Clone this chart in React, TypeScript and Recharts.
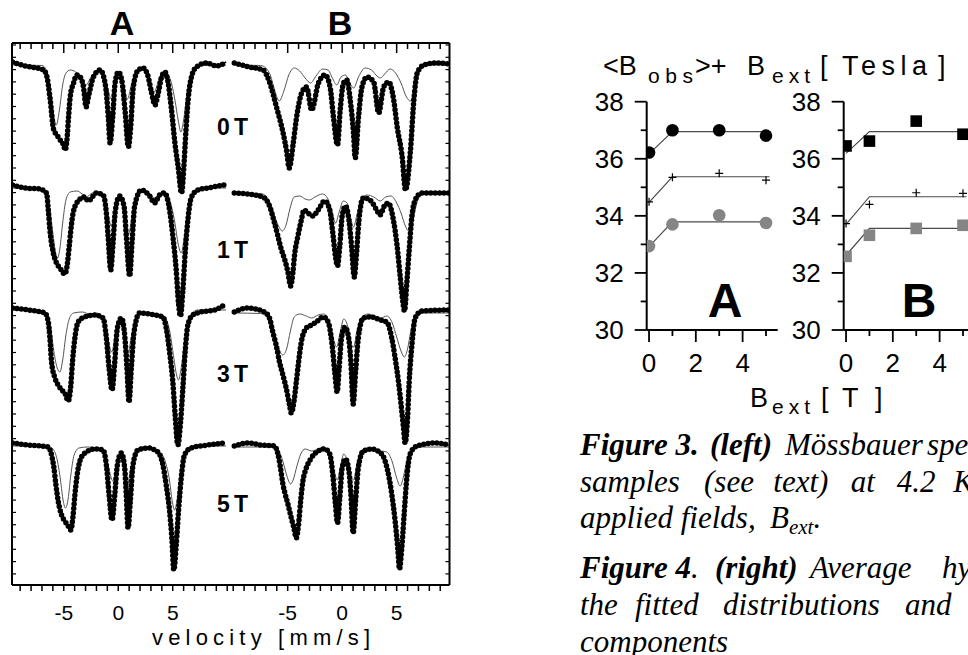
import React from 'react';
import { LineChart, Line, XAxis, YAxis, ComposedChart, Scatter } from 'recharts';

type P = [number, number];

// ---------------- Figure 3: Mössbauer spectra, [velocity (mm/s), absorption (%)] ----------------
const specA0: P[] = [[-9.7,-0.3],[-8.5,0.1],[-7.5,0.3],[-6.85,0.5],[-6.54,1.2],[-6.24,3.5],[-5.94,6.4],[-5.63,7.0],[-5.32,7.5],[-5.02,8.0],[-4.87,8.5],[-4.71,7.5],[-4.56,5.2],[-4.41,3.2],[-4.1,1.8],[-3.8,1.0],[-3.49,1.2],[-3.19,2.2],[-2.95,4.2],[-2.74,3.2],[-2.28,1.2],[-1.67,0.5],[-1.21,1.8],[-0.91,5.2],[-0.75,7.8],[-0.51,5.2],[-0.29,1.8],[0.01,0.7],[0.32,1.5],[0.62,4.5],[0.93,8.2],[1.14,6.2],[1.38,2.2],[1.84,0.5],[2.3,0.3],[2.75,1.2],[3.06,2.8],[3.37,4.0],[3.67,2.8],[3.98,1.2],[4.28,0.7],[4.58,1.8],[4.89,4.5],[5.2,7.8],[5.5,10.2],[5.81,12.8],[6.02,10.2],[6.2,6.8],[6.41,3.5],[6.72,1.2],[7.17,0.2],[8.1,-0.2],[9.0,0.1],[9.9,-0.3]];
const specB0: P[] = [[-9.9,-0.2],[-8.5,0.2],[-7.26,0.5],[-6.64,1.8],[-6.03,4.2],[-5.42,6.8],[-5.1,8.6],[-4.86,10.3],[-4.49,7.8],[-4.18,5.2],[-3.72,2.8],[-3.26,2.2],[-2.8,4.5],[-2.18,1.8],[-1.57,1.0],[-1.11,2.2],[-0.8,5.2],[-0.43,8.0],[-0.18,4.5],[0.12,1.8],[0.43,1.5],[0.74,3.5],[1.04,6.8],[1.2,9.3],[1.5,5.2],[1.82,2.2],[2.28,1.2],[2.89,1.7],[3.35,4.8],[3.81,2.2],[4.27,1.7],[4.73,3.5],[5.05,6.2],[5.51,9.2],[5.81,12.5],[6.27,8.5],[6.58,3.5],[6.89,0.8],[7.5,0],[8.7,-0.2],[9.9,-0.1]];
const specA1: P[] = [[-9.7,-0.3],[-8.5,0],[-7.2,0.1],[-6.58,0.5],[-6.42,2.2],[-6.27,4.2],[-5.96,6.5],[-5.66,7.5],[-5.35,8.0],[-4.9,8.6],[-4.66,7.5],[-4.53,6.2],[-4.35,4.2],[-4.14,2.5],[-3.68,1.3],[-3.07,0.9],[-2.76,1.3],[-2.0,0.5],[-1.39,0.7],[-1.09,2.5],[-0.93,4.8],[-0.69,8.2],[-0.48,5.5],[-0.26,2.2],[0.13,0.8],[0.53,1.8],[0.74,4.8],[1.05,8.8],[1.26,5.5],[1.51,1.8],[2.12,0.2],[2.88,0.8],[3.34,1.5],[3.79,0.7],[4.25,0.5],[4.71,2.2],[5.01,4.8],[5.32,8.2],[5.53,11.5],[5.71,12.8],[5.93,10.2],[6.14,6.5],[6.39,3.2],[6.69,1.0],[7.3,0.2],[8.2,0],[9.74,-0.3]];
const specB1: P[] = [[-9.9,0],[-8.05,0.2],[-7.13,0.5],[-6.67,1.3],[-6.21,3.0],[-5.9,4.3],[-5.6,5.6],[-5.29,6.6],[-4.98,7.9],[-4.73,9.3],[-4.52,7.9],[-4.37,6.2],[-4.06,4.3],[-3.75,2.7],[-3.5,1.7],[-3.14,2.0],[-2.68,2.3],[-2.21,1.7],[-1.6,0.8],[-1.14,1.7],[-0.83,4.3],[-0.62,6.3],[-0.43,7.3],[-0.22,5.3],[0,2.3],[0.31,1.3],[0.62,2.7],[0.86,5.3],[1.11,8.4],[1.32,6.0],[1.54,2.7],[1.94,0.5],[2.55,0.7],[3.17,1.7],[3.48,2.2],[3.87,1.3],[4.24,1.0],[4.7,2.7],[5.01,5.0],[5.32,8.3],[5.54,10.6],[5.72,11.8],[5.93,9.0],[6.15,5.7],[6.4,2.3],[6.7,0.7],[7.3,0],[9.8,0]];
const specA3: P[] = [[-9.7,-0.2],[-8.25,0],[-6.73,0.3],[-6.42,1.2],[-6.27,2.8],[-6.12,5.2],[-5.81,6.8],[-5.51,7.5],[-5.2,8.0],[-4.9,8.3],[-4.59,9.1],[-4.35,7.5],[-4.2,5.2],[-3.98,2.8],[-3.68,1.2],[-3.07,0.7],[-2.15,0.5],[-1.39,0.8],[-1.09,2.8],[-0.84,5.8],[-0.57,8.0],[-0.32,5.2],[-0.08,1.8],[0.29,0.8],[0.59,2.5],[0.8,5.8],[0.99,9.2],[1.2,5.8],[1.45,2.2],[1.96,0.3],[3.34,0.5],[4.1,0.7],[4.4,1.8],[4.71,4.2],[5.01,7.2],[5.22,10.5],[5.47,13.5],[5.72,11.2],[5.93,7.8],[6.14,4.2],[6.39,1.5],[6.84,0.5],[7.6,0.2],[8.83,0],[9.74,-0.5]];
const specB3: P[] = [[-9.9,0.1],[-8.67,-0.3],[-7.13,0.1],[-6.67,0.7],[-6.37,2.1],[-6.06,3.4],[-5.75,5.1],[-5.44,6.4],[-5.14,7.7],[-4.83,9.4],[-4.67,10.2],[-4.43,9.1],[-4.21,7.1],[-4.0,5.1],[-3.75,3.1],[-3.29,1.7],[-2.83,1.4],[-2.37,1.1],[-1.75,0.6],[-1.29,1.1],[-0.92,3.4],[-0.68,6.1],[-0.46,8.1],[-0.28,5.7],[-0.06,2.7],[0.25,1.6],[0.55,2.4],[0.8,5.1],[1.01,9.3],[1.23,6.1],[1.48,2.7],[1.94,0.7],[2.7,0.6],[3.48,0.9],[4.09,1.1],[4.55,2.7],[4.86,4.7],[5.17,7.1],[5.41,9.4],[5.63,11.7],[5.78,13.2],[6.0,10.7],[6.15,7.1],[6.4,3.4],[6.7,0.7],[7.3,0],[9.8,-0.1]];
const specA5: P[] = [[-9.7,-0.2],[-8.25,0],[-6.42,0.2],[-6.12,1.0],[-5.9,2.3],[-5.72,4.0],[-5.51,5.6],[-5.2,7.0],[-4.9,7.6],[-4.59,8.1],[-4.35,8.5],[-4.14,7.0],[-3.98,5.0],[-3.77,3.0],[-3.52,1.6],[-3.07,0.8],[-2.15,0.4],[-1.39,0.5],[-1.09,2.0],[-0.84,5.0],[-0.57,7.5],[-0.32,5.0],[-0.08,2.0],[0.29,0.8],[0.59,2.3],[0.74,5.0],[0.9,8.3],[1.11,5.6],[1.35,2.0],[1.81,0.5],[2.73,0.3],[3.64,0.7],[4.1,2.0],[4.4,4.0],[4.71,6.6],[4.92,9.3],[5.1,12.5],[5.32,10.0],[5.53,6.6],[5.78,3.3],[6.08,1.0],[6.69,0.3],[8.2,0],[9.74,-0.2]];
const specB5: P[] = [[-9.9,0],[-8.67,-0.3],[-7.44,-0.1],[-6.21,0],[-5.9,0.8],[-5.66,2.2],[-5.44,3.8],[-5.23,4.8],[-4.98,5.8],[-4.67,7.2],[-4.43,8.2],[-4.21,9.2],[-4.0,7.8],[-3.81,5.5],[-3.6,3.5],[-3.29,2.2],[-2.83,1.2],[-2.21,0.5],[-1.6,0.3],[-1.14,0.8],[-0.83,3.2],[-0.62,5.8],[-0.43,7.7],[-0.22,5.2],[0,2.2],[0.31,1.3],[0.62,2.5],[0.8,4.8],[1.01,8.7],[1.23,5.5],[1.48,2.2],[1.94,0.5],[2.7,0.3],[3.63,0.8],[4.18,2.5],[4.55,4.8],[4.86,7.5],[5.1,10.2],[5.26,12.3],[5.47,10.2],[5.69,6.8],[5.93,3.2],[6.24,0.8],[6.85,0],[8.55,-0.3],[9.78,-0.1]];

// thin sub-spectrum (one fitted component)
const compA0: P[] = [[-9.7,0],[-7.0,0.05],[-6.6,0.5],[-6.3,2.0],[-6.0,4.5],[-5.69,6.0],[-5.4,4.5],[-5.1,2.0],[-4.8,0.8],[-4.4,0.5],[-3.9,0.7],[-3.4,1.3],[-2.95,2.0],[-2.5,1.2],[-2.0,0.6],[-1.5,0.8],[-1.0,2.2],[-0.65,3.4],[-0.3,2.0],[0.1,1.3],[0.5,2.2],[0.85,3.4],[1.2,2.0],[1.7,0.7],[2.3,0.5],[2.8,1.2],[3.3,2.7],[3.8,1.2],[4.3,0.7],[4.8,1.5],[5.2,3.5],[5.5,5.5],[5.75,6.7],[6.0,5.5],[6.3,3.0],[6.6,1.2],[7.0,0.3],[7.5,0.05],[9.9,0]];
const compB0: P[] = [[-9.9,0],[-7.5,0.05],[-7.0,0.3],[-6.6,1.0],[-6.2,2.5],[-5.78,3.6],[-5.35,2.6],[-4.9,1.0],[-4.4,0.3],[-3.9,0.6],[-3.4,1.3],[-2.9,1.8],[-2.4,1.1],[-1.8,0.4],[-1.3,0.5],[-0.9,1.3],[-0.5,2.0],[-0.1,1.2],[0.3,1.0],[0.7,1.8],[1.05,2.3],[1.5,1.2],[2.1,0.3],[2.7,0.5],[3.1,1.0],[3.5,1.3],[3.9,0.9],[4.4,0.4],[4.9,0.8],[5.4,1.8],[5.9,3.2],[6.25,3.6],[6.6,2.6],[7.0,0.9],[7.4,0.2],[8.0,0],[9.9,0]];
const compA1: P[] = [[-9.7,0],[-7.0,0.05],[-6.6,0.5],[-6.3,2.0],[-6.0,4.5],[-5.75,6.5],[-5.57,7.0],[-5.35,6.0],[-5.1,3.5],[-4.8,1.2],[-4.4,0.4],[-3.8,0.3],[-3.3,0.6],[-2.9,0.9],[-2.4,0.5],[-1.8,0.4],[-1.3,1.2],[-0.9,2.8],[-0.65,3.8],[-0.35,2.5],[0.0,1.0],[0.35,1.5],[0.7,3.5],[0.95,4.6],[1.25,3.0],[1.7,0.8],[2.3,0.3],[2.9,0.6],[3.35,1.0],[3.8,0.6],[4.3,0.5],[4.8,1.5],[5.2,3.5],[5.5,5.6],[5.78,6.5],[6.05,5.0],[6.35,2.5],[6.7,0.8],[7.1,0.2],[7.6,0],[9.9,0]];
const compB1: P[] = [[-9.9,0],[-7.5,0.05],[-7.0,0.3],[-6.6,1.0],[-6.2,2.3],[-5.8,3.4],[-5.5,3.8],[-5.15,3.2],[-4.8,1.6],[-4.4,0.4],[-3.9,0.3],[-3.4,0.6],[-3.0,0.7],[-2.5,0.4],[-1.8,0.1],[-1.3,0.6],[-0.9,2.0],[-0.6,3.0],[-0.3,2.0],[0.1,0.8],[0.45,1.0],[0.75,2.4],[1.05,3.4],[1.35,2.2],[1.8,0.5],[2.3,0.2],[2.9,0.4],[3.5,0.8],[4.0,0.4],[4.5,0.3],[5.0,1.0],[5.4,2.0],[5.8,3.3],[6.1,3.8],[6.4,3.2],[6.7,1.7],[7.0,0.5],[7.4,0.05],[9.9,0]];
const compA3: P[] = [[-9.7,0],[-7.0,0.05],[-6.5,0.4],[-6.2,1.8],[-5.9,4.2],[-5.6,5.8],[-5.35,6.2],[-5.1,5.0],[-4.8,2.5],[-4.5,0.9],[-4.1,0.3],[-3.3,0.2],[-2.6,0.4],[-2.0,0.3],[-1.4,0.8],[-1.0,2.6],[-0.6,4.2],[-0.25,2.4],[0.1,1.2],[0.5,2.4],[0.85,4.8],[1.15,3.0],[1.6,0.8],[2.2,0.2],[3.0,0.3],[3.6,0.4],[4.2,0.6],[4.7,2.0],[5.1,4.8],[5.35,6.5],[5.53,7.0],[5.75,6.0],[6.05,3.5],[6.4,1.2],[6.8,0.3],[7.3,0],[9.9,0]];
const compB3: P[] = [[-9.9,0.2],[-7.5,0.25],[-7.0,0.5],[-6.6,1.2],[-6.2,2.4],[-5.8,3.8],[-5.44,4.4],[-5.1,3.8],[-4.75,2.0],[-4.4,0.6],[-3.9,0.3],[-3.3,0.5],[-2.8,0.7],[-2.2,0.4],[-1.7,0.3],[-1.2,1.0],[-0.8,2.8],[-0.5,3.6],[-0.2,2.2],[0.15,0.8],[0.5,1.5],[0.8,3.2],[1.05,3.6],[1.35,2.0],[1.8,0.6],[2.4,0.3],[3.0,0.5],[3.55,0.7],[4.1,0.5],[4.6,1.2],[5.0,2.6],[5.4,4.0],[5.7,4.6],[6.0,3.8],[6.3,2.0],[6.7,0.6],[7.1,0.25],[7.6,0.2],[9.9,0.2]];
const compA5: P[] = [[-9.7,0.1],[-6.5,0.1],[-6.0,0.4],[-5.6,1.5],[-5.3,3.5],[-5.05,5.6],[-4.84,6.3],[-4.6,5.4],[-4.35,3.0],[-4.05,1.0],[-3.6,0.3],[-2.8,0.2],[-2.0,0.3],[-1.3,0.8],[-0.9,2.2],[-0.5,3.6],[-0.2,2.4],[0.1,1.2],[0.45,2.0],[0.8,4.2],[1.1,2.6],[1.5,0.8],[2.2,0.2],[3.0,0.3],[3.8,0.7],[4.3,1.6],[4.7,3.5],[4.95,5.6],[5.17,6.5],[5.4,5.5],[5.7,3.0],[6.0,1.1],[6.4,0.3],[7.0,0.1],[9.9,0.1]];
const compB5: P[] = [[-9.9,0.1],[-6.5,0.1],[-6.0,0.3],[-5.6,1.0],[-5.25,2.3],[-4.95,3.4],[-4.73,3.8],[-4.5,3.4],[-4.15,2.0],[-3.8,0.8],[-3.4,0.3],[-2.8,0.5],[-2.2,0.3],[-1.7,0.1],[-1.2,0.6],[-0.8,2.2],[-0.45,3.4],[-0.15,2.0],[0.15,0.8],[0.5,1.6],[0.8,3.0],[1.05,3.4],[1.35,1.8],[1.8,0.4],[2.4,0.2],[3.0,0.3],[3.6,0.5],[4.1,0.6],[4.6,1.6],[5.0,3.2],[5.32,4.0],[5.6,3.2],[5.95,1.4],[6.3,0.4],[6.8,0.1],[9.9,0.1]];

const fieldLabels = ['0T', '1T', '3T', '5T'];
const velTicksA = [-9,-8,-7,-6,-5,-4,-3,-2,-1,0,1,2,3,4,5,6,7,8,9,10];
const velTicksB = [-10,-9,-8,-7,-6,-5,-4,-3,-2,-1,0,1,2,3,4,5,6,7,8,9];
const velLabels = [-5, 0, 5];

// ---------------- Figure 4: <Bobs> + Bext vs Bext ----------------
const bext = [0, 1, 3, 5];
const bextFit = [0, 1, 5.15];
const aBlack = [36.22, 37.0, 37.0, 36.81];
const aPlus = [34.49, 35.35, 35.49, 35.25];
const aGray = [32.94, 33.70, 34.02, 33.75];
const aBlackFit = [36.17, 36.95, 36.95];
const aPlusFit = [34.47, 35.37, 35.37];
const aGrayFit = [32.92, 33.79, 33.79];
const bBlack = [36.45, 36.62, 37.32, 36.86];
const bPlus = [33.73, 34.40, 34.81, 34.79];
const bGray = [32.58, 33.32, 33.56, 33.67];
const bBlackFit = [36.19, 36.95, 36.95];
const bPlusFit = [33.70, 34.67, 34.67];
const bGrayFit = [32.62, 33.56, 33.56];
const teslaTicks = [30, 31, 32, 33, 34, 35, 36, 37, 38];
const bextTicks = [0, 1, 2, 3, 4, 5];

// ---------------- layout / style ----------------
const SANS = '"Liberation Sans", Arial, Helvetica, sans-serif';
const SERIF = '"Liberation Serif", "Times New Roman", Times, serif';
const SHIFT_B = 20.55;
const baseA = [-2.2, -14.5, -26.7, -40.2];
const baseB = [-2.2, -15.0, -26.8, -40.3];
const GRAY = '#858585';

const mk = (pts: P[], base: number, shift: number) => pts.map(([v, d]) => ({ x: v + shift, y: base - d }));
const pairs = (xs: number[], ys: number[]) => xs.map((x, i) => ({ x, y: ys[i] }));

const specsA = [specA0, specA1, specA3, specA5];
const specsB = [specB0, specB1, specB3, specB5];
const compsA = [compA0, compA1, compA3, compA5];
const compsB = [compB0, compB1, compB3, compB5];

const xTicks = [...velTicksA, ...velTicksB.map((v) => v + SHIFT_B)];
const labelFor = (val: number): string | null => {
  for (const l of velLabels) {
    if (Math.abs(val - l) < 1e-6) return String(l);
    if (Math.abs(val - (l + SHIFT_B)) < 1e-6) return String(l);
  }
  return null;
};
const yTicksSpec = Array.from({ length: 44 }, (_, k) => -0.2 - 1.23 * k);

const BottomTick = (p: any) => {
  const { x, y, payload } = p;
  const lbl = labelFor(payload.value);
  return (
    <g>
      <line x1={x} y1={y} x2={x} y2={y + 6} stroke="#000" strokeWidth={1.5} />
      {lbl !== null && (
        <text x={x} y={y + 35} textAnchor="middle" fontSize={21} fontFamily={SANS} fill="#000">{lbl}</text>
      )}
    </g>
  );
};
const TopTick = (p: any) => {
  const { x, y, payload } = p;
  const major = labelFor(payload.value) !== null;
  return <line x1={x} y1={y} x2={x} y2={y + (major ? 10 : 6)} stroke="#000" strokeWidth={1.5} />;
};
const LeftTick = (p: any) => <line x1={p.x} y1={p.y} x2={p.x + 4} y2={p.y} stroke="#000" strokeWidth={1.2} />;
const RightTick = (p: any) => <line x1={p.x} y1={p.y} x2={p.x - 4} y2={p.y} stroke="#000" strokeWidth={1.2} />;

function SpectraChart() {
  const lines: React.ReactNode[] = [];
  const add = (data: P[], comp: P[], base: number, shift: number, key: string) => {
    lines.push(
      <Line key={key + 'c'} xAxisId="b" yAxisId="l" data={mk(comp, base, shift)} dataKey="y" type="monotone" stroke="#555" strokeWidth={1} dot={false} activeDot={false} isAnimationActive={false} />,
      <Line key={key + 'd'} xAxisId="b" yAxisId="l" data={mk(data, base, shift)} dataKey="y" type="monotone" stroke="#000" strokeWidth={5.5} strokeDasharray="0 4.4" strokeLinecap="round" dot={false} activeDot={false} isAnimationActive={false} />,
      <Line key={key + 'f'} xAxisId="b" yAxisId="l" data={mk(data, base, shift)} dataKey="y" type="monotone" stroke="#000" strokeWidth={1.6} dot={false} activeDot={false} isAnimationActive={false} />
    );
  };
  specsA.forEach((s, i) => add(s, compsA[i], baseA[i], 0, 'A' + i));
  specsB.forEach((s, i) => add(s, compsB[i], baseB[i], SHIFT_B, 'B' + i));
  return (
    <LineChart width={470} height={655} margin={{ top: 42, right: 19.5, bottom: 0, left: 11 }}>
      <XAxis xAxisId="b" type="number" dataKey="x" domain={[-9.75, 30.4]} ticks={xTicks} interval={0} allowDataOverflow
        tickLine={false} tickSize={0} tickMargin={0} height={70} axisLine={{ stroke: '#000', strokeWidth: 2 }} tick={BottomTick} />
      <XAxis xAxisId="t" orientation="top" type="number" dataKey="x" domain={[-9.75, 30.4]} ticks={xTicks} interval={0} allowDataOverflow
        tickLine={false} tickSize={0} tickMargin={0} height={1} axisLine={{ stroke: '#000', strokeWidth: 2 }} tick={TopTick} />
      <YAxis yAxisId="l" type="number" dataKey="y" domain={[-54.2, 0]} ticks={yTicksSpec} interval={0} allowDataOverflow width={1}
        tickLine={false} tickSize={0} tickMargin={0} axisLine={{ stroke: '#000', strokeWidth: 2 }} tick={LeftTick} />
      <YAxis yAxisId="r" orientation="right" type="number" dataKey="y" domain={[-54.2, 0]} ticks={yTicksSpec} interval={0} allowDataOverflow width={1}
        tickLine={false} tickSize={0} tickMargin={0} axisLine={{ stroke: '#000', strokeWidth: 2 }} tick={RightTick} />
      {lines}
    </LineChart>
  );
}

const TeslaTick = (p: any) => {
  const { x, y, payload } = p;
  const major = payload.value % 2 === 0;
  return (
    <g>
      <line x1={x} y1={y} x2={x - (major ? 12 : 6)} y2={y} stroke="#000" strokeWidth={1.8} />
      {major && <text x={x - 23} y={y + 9} textAnchor="end" fontSize={26} fontFamily={SANS} fill="#000">{payload.value}</text>}
    </g>
  );
};
const BextTick = (p: any) => {
  const { x, y, payload } = p;
  const major = payload.value % 2 === 0;
  return (
    <g>
      <line x1={x} y1={y} x2={x} y2={y + (major ? 12 : 6)} stroke="#000" strokeWidth={1.8} />
      {major && <text x={x} y={y + 42} textAnchor="middle" fontSize={26} fontFamily={SANS} fill="#000">{payload.value}</text>}
    </g>
  );
};
const Circ = (fill: string) => (p: any) => <circle cx={p.cx} cy={p.cy} r={6.3} fill={fill} />;
const Sq = (fill: string) => (p: any) => <rect x={p.cx - 5.8} y={p.cy - 5.8} width={11.6} height={11.6} fill={fill} />;
const PlusShape = (p: any) => (
  <g stroke="#000" strokeWidth={1.2}>
    <line x1={p.cx - 4} y1={p.cy} x2={p.cx + 4} y2={p.cy} />
    <line x1={p.cx} y1={p.cy - 4} x2={p.cx} y2={p.cy + 4} />
  </g>
);

function FieldPanel(props: { left: number; blk: number[]; pls: number[]; gry: number[]; blkFit: number[]; plsFit: number[]; gryFit: number[]; square: boolean }) {
  const { left, blk, pls, gry, blkFit, plsFit, gryFit, square } = props;
  const shape = square ? Sq : Circ;
  return (
    <div style={{ position: 'absolute', left, top: 80 }}>
      <ComposedChart width={240} height={330} margin={{ top: 21.7, right: 240 - 86.7 - 131, bottom: 0, left: 85.7 }}>
        <XAxis type="number" dataKey="x" domain={[-0.1, 5.5]} ticks={bextTicks} interval={0} allowDataOverflow tickLine={false} tickSize={0} tickMargin={0}
          height={80} axisLine={{ stroke: '#000', strokeWidth: 2 }} tick={BextTick} />
        <YAxis type="number" dataKey="y" domain={[30, 38]} ticks={teslaTicks} interval={0} allowDataOverflow width={1} tickLine={false} tickSize={0} tickMargin={0}
          axisLine={{ stroke: '#000', strokeWidth: 2 }} tick={TeslaTick} />
        <Line data={pairs(bextFit, blkFit)} dataKey="y" type="linear" stroke="#4a4a4a" strokeWidth={1.2} dot={false} activeDot={false} isAnimationActive={false} />
        <Line data={pairs(bextFit, plsFit)} dataKey="y" type="linear" stroke="#4a4a4a" strokeWidth={1.2} dot={false} activeDot={false} isAnimationActive={false} />
        <Line data={pairs(bextFit, gryFit)} dataKey="y" type="linear" stroke="#4a4a4a" strokeWidth={1.2} dot={false} activeDot={false} isAnimationActive={false} />
        <Scatter data={pairs(bext, blk)} dataKey="y" shape={shape('#000')} isAnimationActive={false} />
        <Scatter data={pairs(bext, pls)} dataKey="y" shape={PlusShape} isAnimationActive={false} />
        <Scatter data={pairs(bext, gry)} dataKey="y" shape={shape(GRAY)} isAnimationActive={false} />
      </ComposedChart>
    </div>
  );
}

const fieldLabelY = [135, 258, 382, 512];

function Overlay() {
  const it = { fontFamily: SERIF, fontStyle: 'italic' as const, fontSize: 31, fill: '#000' };
  return (
    <svg width={968} height={655} style={{ position: 'absolute', left: 0, top: 0, pointerEvents: 'none' }}>
      {/* Figure 3 labels */}
      <text x={122} y={35} textAnchor="middle" fontFamily={SANS} fontWeight="bold" fontSize={34}>A</text>
      <text x={340} y={35} textAnchor="middle" fontFamily={SANS} fontWeight="bold" fontSize={34}>B</text>
      {fieldLabels.map((f, i) => (
        <text key={f} x={217} y={fieldLabelY[i]} fontFamily={SANS} fontWeight="bold" fontSize={23} textLength={31} lengthAdjust="spacing">{f}</text>
      ))}
      <text x={152} y={645} fontFamily={SANS} fontSize={22} textLength={218} lengthAdjust="spacing">velocity [mm/s]</text>

      {/* Figure 4 title and labels */}
      <g fontFamily={SANS} fontSize={27}>
        <text y={75}>
          <tspan x={603}>&lt;B</tspan>
          <tspan x={648} dy={8} fontSize={21} textLength={45} lengthAdjust="spacing">obs</tspan>
          <tspan x={695} dy={-8}>&gt;+</tspan>
          <tspan x={747}>B</tspan>
          <tspan x={772} dy={8} fontSize={21} textLength={38} lengthAdjust="spacing">ext</tspan>
          <tspan x={820} dy={-8}>[</tspan>
          <tspan x={842} textLength={85} lengthAdjust="spacing">Tesla</tspan>
          <tspan x={938}>]</tspan>
        </text>
        <text y={407}>
          <tspan x={750}>B</tspan>
          <tspan x={772} dy={7} fontSize={21} textLength={38} lengthAdjust="spacing">ext</tspan>
          <tspan x={821} dy={-7}>[</tspan>
          <tspan x={842}>T</tspan>
          <tspan x={875}>]</tspan>
        </text>
      </g>
      <text x={725} y={317} textAnchor="middle" fontFamily={SANS} fontWeight="bold" fontSize={48}>A</text>
      <text x={919} y={317} textAnchor="middle" fontFamily={SANS} fontWeight="bold" fontSize={48}>B</text>

      {/* captions */}
      <text y={455} {...it}>
        <tspan x={580} fontWeight="bold">Figure 3.</tspan>
        <tspan x={710} fontWeight="bold">(left)</tspan>
        <tspan x={785}>Mössbauer</tspan>
        <tspan x={927}>spectra</tspan>
      </text>
      <text y={491.7} {...it}>
        <tspan x={580}>samples</tspan>
        <tspan x={704}>(see</tspan>
        <tspan x={773.3}>text)</tspan>
        <tspan x={850.7}>at</tspan>
        <tspan x={896.7}>4.2</tspan>
        <tspan x={953.3}>K</tspan>
      </text>
      <text y={528} {...it}>
        <tspan x={580}>applied fields,</tspan>
        <tspan x={770}>B</tspan>
        <tspan dy={6} fontSize={21}>ext</tspan>
        <tspan dy={-6}>.</tspan>
      </text>
      <text y={578} {...it}>
        <tspan x={580} fontWeight="bold">Figure 4</tspan>
        <tspan>.</tspan>
        <tspan x={715} fontWeight="bold">(right)</tspan>
        <tspan x={810}>Average</tspan>
        <tspan x={942}>hyperfine</tspan>
      </text>
      <text y={615} {...it}>
        <tspan x={580}>the</tspan>
        <tspan x={635}>fitted</tspan>
        <tspan x={723}>distributions</tspan>
        <tspan x={905}>and</tspan>
      </text>
      <text y={651.7} {...it}>
        <tspan x={580}>components</tspan>
      </text>
    </svg>
  );
}

export default function App() {
  return (
    <div style={{ position: 'fixed', left: 0, top: 0, width: 968, height: 655, overflow: 'hidden', background: '#fff' }}>
      <div style={{ position: 'absolute', left: 0, top: 0 }}>
        <SpectraChart />
      </div>
      <FieldPanel left={560} blk={aBlack} pls={aPlus} gry={aGray} blkFit={aBlackFit} plsFit={aPlusFit} gryFit={aGrayFit} square={false} />
      <FieldPanel left={757} blk={bBlack} pls={bPlus} gry={bGray} blkFit={bBlackFit} plsFit={bPlusFit} gryFit={bGrayFit} square={true} />
      <Overlay />
    </div>
  );
}
